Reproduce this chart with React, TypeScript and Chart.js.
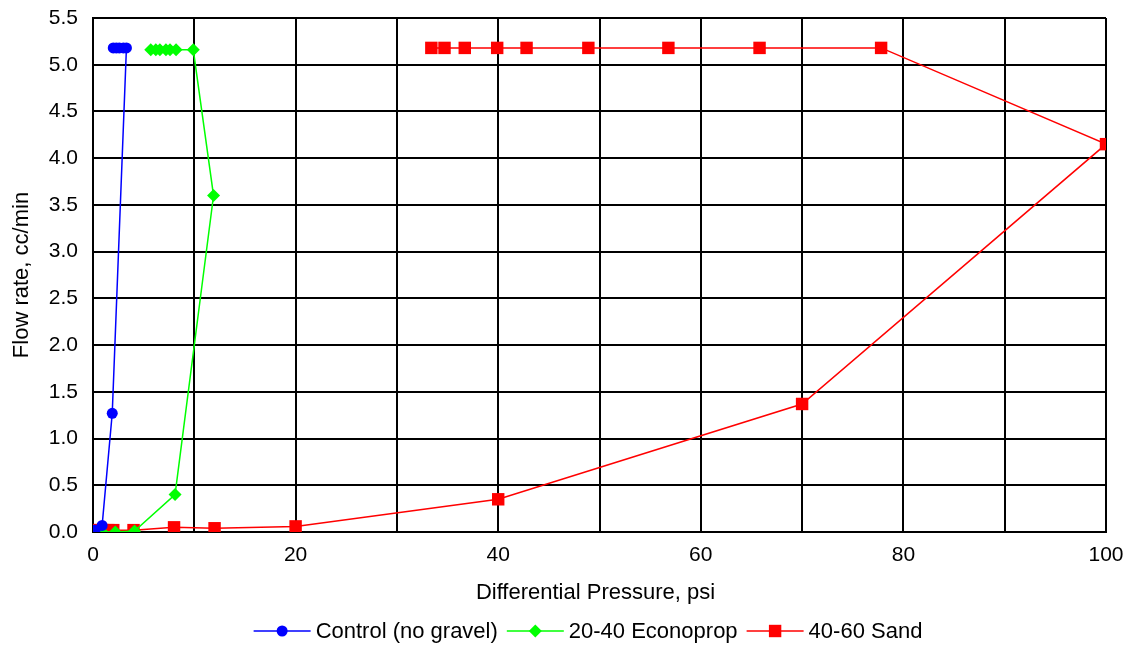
import React, { useEffect, useRef } from "react";
import { Chart, registerables } from "chart.js";

Chart.register(...registerables);

const controlX = [0.2, 0.9, 1.9, 3.3, 3.0, 2.6, 2.3, 2.0];
const controlY = [0.02, 0.07, 1.27, 5.18, 5.18, 5.18, 5.18, 5.18];

const econoX = [0.9, 2.2, 4.1, 8.1, 11.9, 9.9, 8.2, 7.6, 7.2, 6.6, 6.2, 5.7];
const econoY = [0.0, 0.0, 0.01, 0.4, 3.6, 5.16, 5.16, 5.16, 5.16, 5.16, 5.16, 5.16];

const sandX = [0, 0.5, 1, 1.5, 2, 4, 8, 12, 20, 40, 70, 100, 77.8, 65.8, 56.8, 48.9, 42.8, 39.9, 36.7, 34.7, 33.4];
const sandY = [0.02, 0.02, 0.02, 0.02, 0.02, 0.02, 0.05, 0.04, 0.06, 0.35, 1.37, 4.15, 5.18, 5.18, 5.18, 5.18, 5.18, 5.18, 5.18, 5.18, 5.18];

const seriesNames = ["Control (no gravel)", "20-40 Econoprop", "40-60 Sand"];
const seriesColors = ["#0000FF", "#00FF00", "#FF0000"];
const seriesStyles = ["circle", "rectRot", "rect"];

const xTicks = [0, 20, 40, 60, 80, 100];
const xTitle = "Differential Pressure, psi";
const yTitle = "Flow rate, cc/min";

const FONT = "Liberation Sans, Arial, sans-serif";

function toPoints(xs: number[], ys: number[]) {
  return xs.map((x, i) => ({ x, y: ys[i] }));
}

function drawMarker(ctx: CanvasRenderingContext2D, style: string, x: number, y: number) {
  ctx.beginPath();
  if (style === "circle") {
    ctx.arc(x, y, 5.5, 0, Math.PI * 2);
  } else if (style === "rectRot") {
    ctx.moveTo(x, y - 6.5);
    ctx.lineTo(x + 6.5, y);
    ctx.lineTo(x, y + 6.5);
    ctx.lineTo(x - 6.5, y);
    ctx.closePath();
  } else {
    ctx.rect(x - 6.2, y - 6.2, 12.4, 12.4);
  }
  ctx.fill();
}

const annotatePlugin = {
  id: "annotateTitlesLegend",
  afterDraw(chart: any) {
    const ctx: CanvasRenderingContext2D = chart.ctx;
    const area = chart.chartArea;
    ctx.save();
    ctx.fillStyle = "#000";
    ctx.font = `22px ${FONT}`;
    ctx.textBaseline = "middle";
    ctx.textAlign = "center";
    // x title
    ctx.fillText(xTitle, (area.left + area.right) / 2 - 4, 593);
    // y title
    ctx.save();
    ctx.translate(22, (area.top + area.bottom) / 2);
    ctx.rotate(-Math.PI / 2);
    ctx.fillText(yTitle, 0, 0);
    ctx.restore();
    // legend
    const lineLen = 57;
    const gapText = 5;
    const gapItem = 9;
    const widths = seriesNames.map((n) => ctx.measureText(n).width);
    const total = widths.reduce((a, w) => a + lineLen + gapText + w, 0) + gapItem * (seriesNames.length - 1);
    let x = 588 - total / 2;
    const y = 631;
    ctx.textAlign = "left";
    seriesNames.forEach((name, i) => {
      ctx.strokeStyle = seriesColors[i];
      ctx.fillStyle = seriesColors[i];
      ctx.lineWidth = 1.5;
      ctx.beginPath();
      ctx.moveTo(x, y);
      ctx.lineTo(x + lineLen, y);
      ctx.stroke();
      drawMarker(ctx, seriesStyles[i], x + lineLen / 2, y);
      ctx.fillStyle = "#000";
      ctx.fillText(name, x + lineLen + gapText, y + 1);
      x += lineLen + gapText + widths[i] + gapItem;
    });
    ctx.restore();
  },
};

export default function App() {
  const ref = useRef<HTMLCanvasElement>(null);
  useEffect(() => {
    document.body.style.margin = "0";
    const radii = [5.5, 6.5, 8.8];
    const datas = [toPoints(controlX, controlY), toPoints(econoX, econoY), toPoints(sandX, sandY)];
    const chart = new Chart(ref.current!, {
      type: "scatter",
      data: {
        datasets: datas.map((d, i) => ({
          label: seriesNames[i],
          data: d,
          showLine: true,
          borderColor: seriesColors[i],
          backgroundColor: seriesColors[i],
          borderWidth: 1.5,
          pointStyle: seriesStyles[i] as any,
          pointRadius: radii[i],
          pointBorderWidth: 0,
          pointHoverRadius: radii[i],
        })),
      },
      plugins: [annotatePlugin],
      options: {
        responsive: false,
        animation: false,
        layout: { padding: { left: 0, right: 23, top: 18, bottom: 0 } },
        plugins: {
          tooltip: { enabled: false },
          legend: { display: false },
        },
        scales: {
          x: {
            type: "linear",
            min: 0,
            max: 100,
            grid: { color: "#000", lineWidth: 2, drawTicks: false },
            border: { color: "#000", width: 2 },
            afterFit: (s: any) => {
              s.height = 116;
              s.paddingLeft = 0;
              s.paddingRight = 0;
            },
            ticks: {
              stepSize: 10,
              autoSkip: false,
              maxRotation: 0,
              padding: 11,
              color: "#000",
              font: { family: FONT, size: 21 },
              callback: (v: any) => (xTicks.includes(Number(v)) ? String(v) : ""),
            },
          },
          y: {
            type: "linear",
            min: 0,
            max: 5.5,
            grid: { color: "#000", lineWidth: 2, drawTicks: false },
            border: { color: "#000", width: 2 },
            afterFit: (s: any) => {
              s.width = 93;
              s.paddingTop = 0;
              s.paddingBottom = 0;
            },
            ticks: {
              stepSize: 0.5,
              padding: 15,
              color: "#000",
              font: { family: FONT, size: 21 },
              callback: (v: any) => Number(v).toFixed(1),
            },
          },
        },
      },
    });
    return () => chart.destroy();
  }, []);
  return (
    <div style={{ width: 1129, height: 648, background: "#fff" }}>
      <canvas ref={ref} width={1129} height={648} />
    </div>
  );
}
